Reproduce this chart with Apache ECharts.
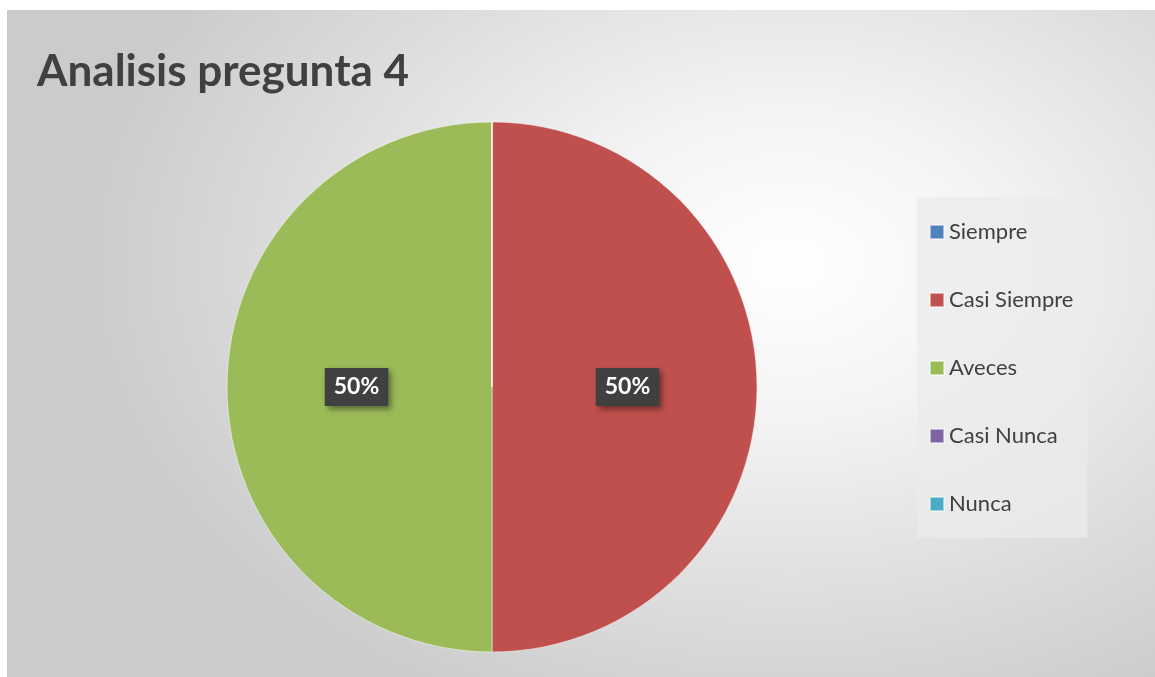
<!DOCTYPE html>
<html>
<head>
<meta charset="utf-8">
<script src="https://cdn.jsdelivr.net/npm/echarts@6/dist/echarts.min.js"></script>
<style>
  html, body { margin: 0; padding: 0; background: #fff; }
  #bg {
    position: absolute; left: 7px; top: 10px; width: 1148px; height: 667px;
    background: radial-gradient(ellipse 62% 75% at 68% 38%, #ffffff 0%, #f4f4f4 30%, #dcdcdc 70%, #cbcbcb 100%);
  }
  #chart { position: absolute; left: 0; top: 0; width: 1155px; height: 677px; }
</style>
</head>
<body>
<div id="bg"></div>
<div id="chart"></div>
<script>
  // datos
  var categorias = ['Siempre', 'Casi Siempre', 'Aveces', 'Casi Nunca', 'Nunca'];
  var valores = [0, 1, 1, 0, 0];
  var colores = ['#4f81bd', '#c0504d', '#9bbb59', '#8064a2', '#4bacc6'];

  var myChart = echarts.init(document.getElementById('chart'));

  var option = {
    backgroundColor: 'transparent',
    title: {
      text: 'Analisis pregunta 4',
      left: 32,
      top: 45,
      textStyle: {
        fontFamily: 'Lato',
        fontWeight: 'bold',
        fontSize: 44,
        color: '#404040'
      }
    },
    legend: {
      orient: 'vertical',
      left: 917,
      top: 197,
      padding: [24, 14, 23, 12],
      itemGap: 46,
      itemWidth: 14,
      itemHeight: 14,
      icon: 'rect',
      backgroundColor: 'rgba(235,235,235,0.75)',
      data: categorias,
      textStyle: {
        fontFamily: 'Lato',
        fontSize: 22,
        lineHeight: 22,
        color: '#404040',
        padding: [0, 0, 0, 0]
      }
    },
    color: colores,
    series: [{
      type: 'pie',
      center: [492, 387],
      radius: 265,
      startAngle: 90,
      clockwise: true,
      avoidLabelOverlap: false,
      itemStyle: {
        borderColor: 'rgba(255,255,255,0.5)',
        borderWidth: 1
      },
      label: {
        position: 'inside',
        formatter: function (p) { return Math.round(p.percent) + '%'; },
        fontFamily: 'Lato',
        fontWeight: 'bold',
        fontSize: 23,
        color: '#fff',
        backgroundColor: '#404040',
        padding: [8, 9, 7, 9],
        shadowColor: 'rgba(0,0,0,0.45)',
        shadowBlur: 6,
        shadowOffsetX: 3,
        shadowOffsetY: 3
      },
      labelLine: { show: false },
      emphasis: { disabled: true },
      data: categorias.map(function (c, i) {
        return { name: c, value: valores[i], label: { show: valores[i] > 0 } };
      })
    }]
  };

  myChart.setOption(option);
</script>
</body>
</html>
